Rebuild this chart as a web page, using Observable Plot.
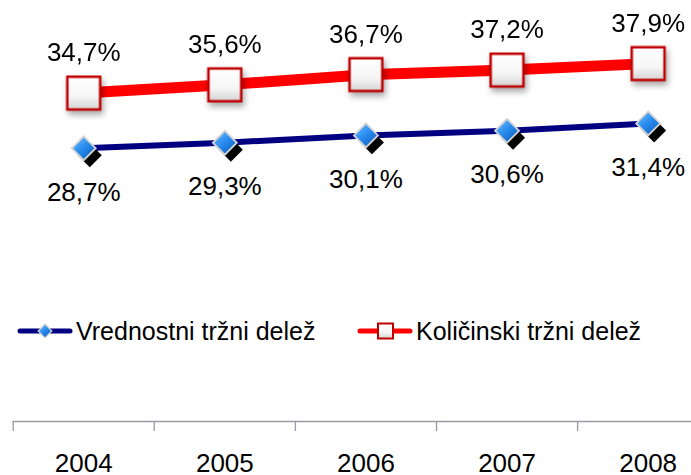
<!DOCTYPE html>
<html><head><meta charset="utf-8">
<script src="https://cdn.jsdelivr.net/npm/d3@7"></script>
<script src="https://cdn.jsdelivr.net/npm/@observablehq/plot@0.6"></script>
<style>
html,body{margin:0;padding:0;background:#fff;}
#chart{position:relative;width:691px;height:475px;overflow:hidden;}
</style></head><body><div id="chart"></div>
<script>
const years = ["2004", "2005", "2006", "2007", "2008"];
const vrednostni = [28.7, 29.3, 30.1, 30.6, 31.4];
const kolicinski = [34.7, 35.6, 36.7, 37.2, 37.9];
const seriesNames = ["Vrednostni tržni delež", "Količinski tržni delež"];
const fmt = v => v.toFixed(1).replace(".", ",") + "%";

const blue = years.map((y, i) => ({i: i + 0.5, year: y, v: vrednostni[i]}));
const red = years.map((y, i) => ({i: i + 0.5, year: y, v: kolicinski[i]}));
const font = "'Liberation Sans', Arial, sans-serif";
const axisColor = "#9a9aa4";

const plot = Plot.plot({
  width: 691, height: 475,
  marginLeft: 12.7, marginRight: 0, marginTop: 25.4, marginBottom: 54,
  style: {fontFamily: font, background: "white", overflow: "hidden"},
  x: {domain: [0, 5], range: [12.7, 718.2]},
  y: {domain: [-1, 42], axis: null},
  marks: [
    Plot.ruleY([-1], {stroke: axisColor, strokeWidth: 1.3}),
    Plot.axisX({ticks: d3.range(years.length), tickSize: 10, tickFormat: () => "", label: null, stroke: axisColor, strokeWidth: 1.3, strokeOpacity: 1}),
    Plot.axisX({ticks: years.map((y, i) => i + 0.5), tickSize: 0, tickPadding: 32, label: null, tickFormat: d => years[Math.floor(d)], fontSize: 26, fill: "black"}),
    Plot.line(blue, {x: "i", y: "v", stroke: "#000080", strokeWidth: 6}),
    Plot.line(red, {x: "i", y: "v", stroke: "#ff0000", strokeWidth: 11}),
    Plot.dot(blue, {x: "i", y: "v", symbol: "diamond2", r: 10.8, fill: "black", dx: 6, dy: 7}),
    Plot.dot(blue, {x: "i", y: "v", symbol: "diamond2", r: 10.8, fill: "url(#blueGrad)", stroke: "#d4d4d4", strokeWidth: 1.8}),
    Plot.dot(red, {x: "i", y: "v", symbol: "square", r: 18.5, fill: "url(#sqGrad)", stroke: "#c00000", strokeWidth: 2.5}),
    Plot.text(red, {x: "i", y: "v", text: d => fmt(d.v), dy: -40, fontSize: 26, fill: "black"}),
    Plot.text(blue, {x: "i", y: "v", text: d => fmt(d.v), dy: 44, fontSize: 26, fill: "black"})
  ]
});

const svg = d3.select(plot);
const defs = svg.insert("defs", ":first-child");
const sg = defs.append("linearGradient").attr("id", "sqGrad").attr("x1", 0).attr("y1", 0).attr("x2", 0).attr("y2", 1);
sg.append("stop").attr("offset", "0").attr("stop-color", "#ffffff");
sg.append("stop").attr("offset", "0.6").attr("stop-color", "#f6f6f6");
sg.append("stop").attr("offset", "1").attr("stop-color", "#d4d4d4");
const bg = defs.append("linearGradient").attr("id", "blueGrad").attr("x1", 0).attr("y1", 0).attr("x2", 0.8).attr("y2", 1);
bg.append("stop").attr("offset", "0").attr("stop-color", "#7cc6ff");
bg.append("stop").attr("offset", "0.5").attr("stop-color", "#2b8ef0");
bg.append("stop").attr("offset", "1").attr("stop-color", "#0b5fc0");

const dots = plot.querySelectorAll('g[aria-label="dot"]');
if (dots[2]) dots[2].style.filter = "drop-shadow(2px 4px 3px rgba(0,0,0,0.35))";

// legend
const lg = svg.append("g").attr("font-family", font).attr("font-size", 25).attr("text-anchor", "start");
const ly = 331;
const items = [
  {x0: 20, name: seriesNames[0], stroke: "#000080", sw: 5, type: "diamond"},
  {x0: 360, name: seriesNames[1], stroke: "#ff0000", sw: 5, type: "square"}
];
items.forEach(it => {
  const g = lg.append("g").attr("transform", `translate(${it.x0},${ly})`);
  g.append("line").attr("x1", 0).attr("x2", 50).attr("stroke", it.stroke).attr("stroke-width", it.sw).attr("stroke-linecap", "round");
  if (it.type === "diamond") {
    g.append("path").attr("d", d3.symbol(d3.symbolDiamond2, 120)()).attr("transform", "translate(25,0)")
      .attr("fill", "url(#blueGrad)").attr("stroke", "#d4d4d4").attr("stroke-width", 1.2);
  } else {
    g.append("rect").attr("x", 18).attr("y", -7.5).attr("width", 15).attr("height", 15)
      .attr("fill", "url(#sqGrad)").attr("stroke", "#c00000").attr("stroke-width", 2);
  }
  g.append("text").attr("x", 56).attr("dy", "0.35em").attr("fill", "black").text(it.name);
});

document.getElementById("chart").appendChild(plot);
</script></body></html>
